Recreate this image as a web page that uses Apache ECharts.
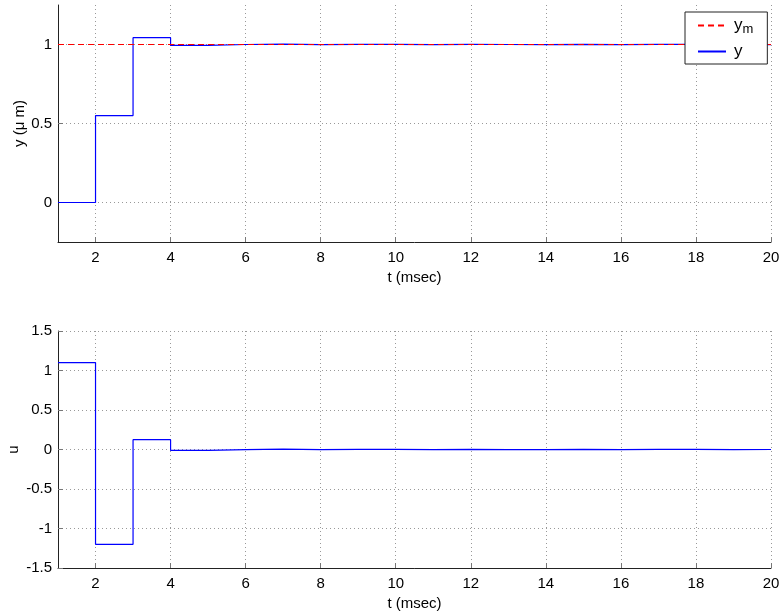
<!DOCTYPE html>
<html>
<head>
<meta charset="utf-8">
<script src="https://cdn.jsdelivr.net/npm/echarts@6/dist/echarts.min.js"></script>
<style>
  html, body { margin: 0; padding: 0; background: #fff; }
  #chart { width: 781px; height: 614px; }
</style>
</head>
<body>
<div id="chart"></div>
<script>
// Sample instants (msec); each value is held until the next sample.
const tSamples = [1, 2, 3, 4, 5, 6, 7, 8, 9, 10, 11, 12, 13, 14, 15, 16, 17, 18, 19, 20];
// Plant output y (µm)
const yOut = [0, 0.55, 1.043, 0.994, 1.0, 1.002, 0.999, 1.001, 1.001, 0.999, 1.001, 1.0, 0.999, 1.001, 0.999, 1.001, 1.001, 1.0, 0.999, 1.0];
// Reference model output y_m
const yRef = [1, 1, 1, 1, 1, 1, 1, 1, 1, 1, 1, 1, 1, 1, 1, 1, 1, 1, 1, 1];
// Control input u
const uIn = [1.1, -1.2, 0.125, -0.012, -0.002, 0.004, -0.002, 0.002, 0.001, -0.002, 0.002, -0.001, -0.001, 0.002, -0.001, 0.002, 0.001, -0.002, 0.0, 0.0];

// Tick positions
const tTicks = [2, 4, 6, 8, 10, 12, 14, 16, 18, 20];
const yTicks = [0, 0.5, 1];
const uTicks = [-1.5, -1, -0.5, 0, 0.5, 1, 1.5];

const pairs = (xs, vs) => xs.map((x, i) => [x, vs[i]]);

const FONT = 'Liberation Sans, Arial, sans-serif';
const axisColor = '#222';
const tickColor = '#777';
const gridLine = { show: true, lineStyle: { color: '#999', type: [1, 3], width: 1 } };

function xAxisCfg(gridIndex) {
  return {
    type: 'value', gridIndex, min: 1, max: 20,
    name: 't (msec)', nameLocation: 'middle', nameGap: 28, nameMoveOverlap: false,
    nameTextStyle: { color: '#000', fontSize: 15, fontFamily: FONT },
    axisLine: { show: true, onZero: false, lineStyle: { color: axisColor, width: 1 } },
    axisTick: { show: true, inside: true, length: 5, customValues: tTicks, lineStyle: { color: tickColor } },
    axisLabel: { customValues: tTicks, color: '#000', fontSize: 15, fontFamily: FONT, margin: 8 },
    splitLine: gridLine
  };
}

function yAxisCfg(gridIndex, name, min, max, ticks, gap) {
  return {
    type: 'value', gridIndex, min, max,
    name, nameLocation: 'middle', nameGap: gap, nameRotate: 90, nameMoveOverlap: false,
    nameTextStyle: { color: '#000', fontSize: 15, fontFamily: FONT },
    axisLine: { show: true, onZero: false, lineStyle: { color: axisColor, width: 1 } },
    axisTick: { show: true, inside: true, length: 5, customValues: ticks, lineStyle: { color: tickColor } },
    axisLabel: { customValues: ticks, color: '#000', fontSize: 15, fontFamily: FONT, margin: 6 },
    splitLine: gridLine
  };
}

const chart = echarts.init(document.getElementById('chart'), null, { renderer: 'canvas' });
chart.setOption({
  animation: false,
  backgroundColor: '#fff',
  grid: [
    { left: 58, top: 5, width: 713, height: 237, outerBoundsMode: 'none', containLabel: false },
    { left: 58, top: 331, width: 713, height: 237, outerBoundsMode: 'none', containLabel: false }
  ],
  xAxis: [xAxisCfg(0), xAxisCfg(1)],
  yAxis: [
    yAxisCfg(0, 'y (μ m)', -0.25, 1.25, yTicks, 31),
    yAxisCfg(1, 'u', -1.5, 1.5, uTicks, 37)
  ],
  legend: {
    data: ['y_m', 'y'],
    orient: 'vertical',
    left: 685, top: 12,
    width: 79,
    backgroundColor: '#fff',
    borderColor: '#222', borderWidth: 1, borderRadius: 0,
    padding: [5, 14, 4, 12],
    itemGap: 7,
    itemWidth: 28, itemHeight: 14,
    itemStyle: { color: 'rgba(0,0,0,0)', borderWidth: 0, opacity: 0 },
    textStyle: {
      color: '#000', fontFamily: FONT, fontSize: 16,
      rich: {
        b: { fontSize: 17, fontFamily: FONT, color: '#000', padding: [0, 0, 0, 3] },
        s: { fontSize: 13, fontFamily: FONT, color: '#000', padding: [8, 0, 0, 0] }
      }
    },
    formatter: name => name === 'y_m' ? '{b|y}{s|m}' : '{b|y}'
  },
  series: [
    {
      name: 'y_m', type: 'line', xAxisIndex: 0, yAxisIndex: 0,
      data: pairs(tSamples, yRef), step: 'end', showSymbol: false, symbol: 'none',
      lineStyle: { color: '#ff0000', width: 1.2, type: [6, 4] }, itemStyle: { color: '#ff0000' },
      z: 3
    },
    {
      name: 'y', type: 'line', xAxisIndex: 0, yAxisIndex: 0,
      data: pairs(tSamples, yOut), step: 'end', showSymbol: false, symbol: 'none',
      lineStyle: { color: '#0000ff', width: 1.2 }, itemStyle: { color: '#0000ff' },
      z: 2
    },
    {
      name: 'u', type: 'line', xAxisIndex: 1, yAxisIndex: 1,
      data: pairs(tSamples, uIn), step: 'end', showSymbol: false, symbol: 'none',
      lineStyle: { color: '#0000ff', width: 1.2 }, itemStyle: { color: '#0000ff' },
      z: 2
    }
  ]
});
</script>
</body>
</html>
